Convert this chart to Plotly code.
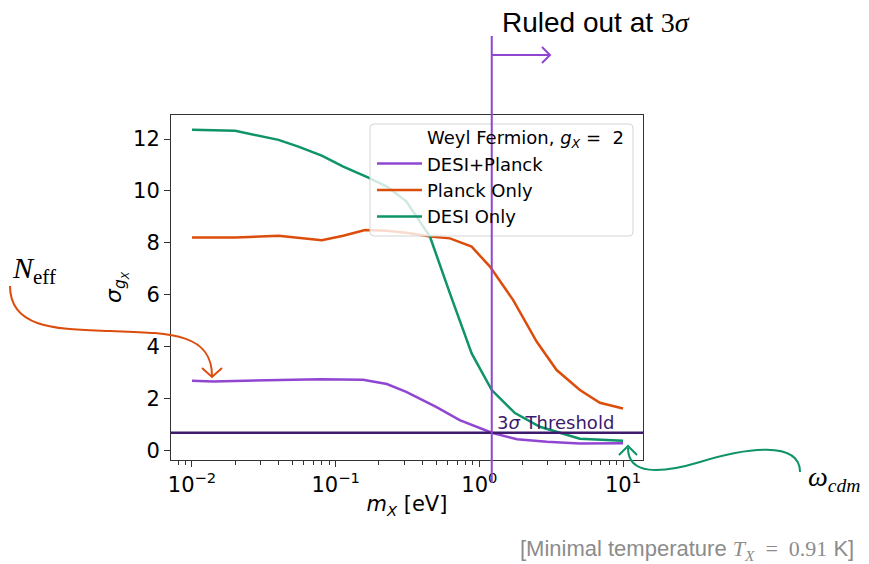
import numpy as np
import plotly.graph_objects as go

# Sensitivity sigma_{g_X} versus mass m_X for each data combination
mass_desi_planck = [0.01, 0.014, 0.078, 0.155, 0.227, 0.31, 0.50, 0.73, 1.22, 1.83, 2.95, 5.0, 10.0]
sigma_desi_planck = [2.68, 2.65, 2.74, 2.72, 2.55, 2.25, 1.67, 1.16, 0.67, 0.42, 0.32, 0.26, 0.27]

mass_planck = [0.01, 0.020, 0.040, 0.080, 0.113, 0.160, 0.227, 0.32, 0.453, 0.624, 0.884,
               1.185, 1.72, 2.51, 3.45, 5.01, 6.9, 10.0]
sigma_planck = [8.20, 8.20, 8.27, 8.10, 8.27, 8.49, 8.46, 8.38, 8.24, 8.17, 7.85,
                7.08, 5.79, 4.18, 3.09, 2.32, 1.83, 1.61]

mass_desi = [0.01, 0.020, 0.040, 0.055, 0.080, 0.113, 0.169, 0.227, 0.31, 0.453, 0.624,
             0.884, 1.22, 1.77, 2.64, 5.0, 10.0]
sigma_desi = [12.36, 12.32, 11.97, 11.71, 11.36, 10.94, 10.51, 10.17, 9.60, 8.24, 6.05,
              3.73, 2.32, 1.43, 0.90, 0.44, 0.36]

x_tick_vals = [0.01, 0.1, 1, 10]
x_tick_text = ["10<sup>−2</sup>", "10<sup>−1</sup>", "10<sup>0</sup>", "10<sup>1</sup>"]

THRESHOLD = 0.67        # 3 sigma detection threshold
RULE_OUT_MASS = 1.22    # mass where DESI+Planck crosses the threshold

C_DP = "#9146d2"
C_PL = "#dc4d0c"
C_DE = "#0f9368"
C_TH = "#3d1a6c"
C_AX = "#333333"

W, H = 869, 564
L, R, T, B = 171, 643, 115, 460   # plot area in pixels


def px_x(x):
    return (x - L) / (R - L)


def px_y(y):
    return (B - y) / (B - T)


def pix_path(cmds):
    out = []
    for c, pts in cmds:
        out.append(c + " " + " ".join(f"{px_x(x):.5f},{px_y(y):.5f}" for x, y in pts))
    return " ".join(out)


fig = go.Figure()

fig.add_trace(go.Scatter(x=[None], y=[None], mode="lines",
                         line=dict(color="rgba(0,0,0,0)", width=2.5),
                         name="Weyl Fermion, <i>g<sub>X</sub></i> =  2"))
fig.add_trace(go.Scatter(x=mass_desi_planck, y=sigma_desi_planck, mode="lines",
                         line=dict(color=C_DP, width=2.5), name="DESI+Planck"))
fig.add_trace(go.Scatter(x=mass_planck, y=sigma_planck, mode="lines",
                         line=dict(color=C_PL, width=2.5), name="Planck Only"))
fig.add_trace(go.Scatter(x=mass_desi, y=sigma_desi, mode="lines",
                         line=dict(color=C_DE, width=2.5), name="DESI Only"))

shapes = []
# threshold line
shapes.append(dict(type="line", xref="paper", yref="y", x0=0, x1=1, y0=THRESHOLD, y1=THRESHOLD,
                   line=dict(color=C_TH, width=2.5), layer="above"))
# legend frame (semi-transparent so curves fade behind it)
lx0, lx1, ly0, ly1, rr = 370, 633, 124, 236, 4
frame = pix_path([
    ("M", [(lx0 + rr, ly0)]), ("L", [(lx1 - rr, ly0)]), ("Q", [(lx1, ly0), (lx1, ly0 + rr)]),
    ("L", [(lx1, ly1 - rr)]), ("Q", [(lx1, ly1), (lx1 - rr, ly1)]),
    ("L", [(lx0 + rr, ly1)]), ("Q", [(lx0, ly1), (lx0, ly1 - rr)]),
    ("L", [(lx0, ly0 + rr)]), ("Q", [(lx0, ly0), (lx0 + rr, ly0)]),
]) + " Z"
shapes.append(dict(type="path", xref="paper", yref="paper", path=frame,
                   fillcolor="rgba(255,255,255,0.8)", line=dict(color="#d4d4d4", width=1),
                   layer="above"))
# ruled-out boundary
shapes.append(dict(type="line", xref="x", yref="paper", x0=RULE_OUT_MASS, x1=RULE_OUT_MASS,
                   y0=px_y(483), y1=px_y(36), line=dict(color=C_DP, width=2), layer="above"))
shapes.append(dict(type="line", xref="x", yref="paper", x0=RULE_OUT_MASS, x1=10 ** (0.487),
                   y0=px_y(55), y1=px_y(55), line=dict(color=C_DP, width=2), layer="above"))
shapes.append(dict(type="path", xref="paper", yref="paper",
                   path=pix_path([("M", [(542, 47)]), ("L", [(550, 55)]), ("L", [(542, 63)])]),
                   line=dict(color=C_DP, width=2), layer="above"))
# N_eff pointer
shapes.append(dict(type="path", xref="paper", yref="paper",
                   path=pix_path([("M", [(10, 286)]), ("C", [(10, 330), (60, 329), (110, 331)]),
                                  ("C", [(170, 333), (212, 333), (212, 376)])]),
                   line=dict(color=C_PL, width=2), layer="above"))
shapes.append(dict(type="path", xref="paper", yref="paper",
                   path=pix_path([("M", [(202, 368)]), ("L", [(212, 377)]), ("L", [(222, 368)])]),
                   line=dict(color=C_PL, width=2), layer="above"))
# omega_cdm pointer
shapes.append(dict(type="path", xref="paper", yref="paper",
                   path=pix_path([("M", [(800, 472)]), ("C", [(800, 440), (745, 448), (700, 462)]),
                                  ("C", [(660, 474), (628, 475), (628, 448)])]),
                   line=dict(color=C_DE, width=2), layer="above"))
shapes.append(dict(type="path", xref="paper", yref="paper",
                   path=pix_path([("M", [(619, 455)]), ("L", [(628, 446)]), ("L", [(637, 455)])]),
                   line=dict(color=C_DE, width=2), layer="above"))

SERIF = "Liberation Serif"
annotations = [
    dict(xref="paper", yref="paper", x=px_x(500), y=px_y(22), xanchor="left", yanchor="middle",
         text='Ruled out at <span style="font-family:Liberation Serif">3<i>σ</i></span>',
         showarrow=False, font=dict(family="Liberation Sans", size=28, color="black")),
    dict(xref="paper", yref="paper", x=px_x(10), y=px_y(270), xanchor="left", yanchor="middle",
         text="<i>N</i><sub>eff</sub>", showarrow=False,
         font=dict(family=SERIF, size=30, color="black")),
    dict(xref="paper", yref="paper", x=px_x(806), y=px_y(478), xanchor="left", yanchor="middle",
         text="<i>ω</i><sub><i>cdm</i></sub>", showarrow=False,
         font=dict(family=SERIF, size=28, color="black")),
    dict(xref="paper", yref="paper", x=px_x(856), y=px_y(550), xanchor="right", yanchor="middle",
         text='[Minimal temperature <span style="font-family:Liberation Serif"><i>T</i><sub><i>X</i></sub>'
              '\u2002=\u20020.91</span> K]',
         showarrow=False, font=dict(family="Liberation Sans", size=22, color="#8c8c8c")),
    dict(xref="x", yref="y", x=np.log10(RULE_OUT_MASS), y=THRESHOLD, xanchor="left", yanchor="bottom",
         xshift=3, yshift=-2, text="3<i>σ</i> Threshold", showarrow=False,
         font=dict(family="DejaVu Sans", size=18, color=C_TH)),
]

axis_common = dict(showline=True, linecolor=C_AX, linewidth=1, mirror=True, ticks="outside",
                   ticklen=6, tickwidth=1, tickcolor=C_AX, showgrid=False, zeroline=False,
                   tickfont=dict(family="DejaVu Sans", size=21, color="black"))

fig.update_layout(
    width=W, height=H,
    margin=dict(l=L, r=W - R, t=T, b=H - B),
    paper_bgcolor="white", plot_bgcolor="white",
    font=dict(family="DejaVu Sans", color="black"),
    xaxis=dict(type="log", range=[-2.146, 1.139], tickmode="array",
               tickvals=x_tick_vals, ticktext=x_tick_text,
               minor=dict(ticks="outside", ticklen=3.5, tickcolor=C_AX, showgrid=False,
                          tickvals=[m * 10.0 ** e for e in (-3, -2, -1, 0, 1) for m in range(2, 10)]),
               title=dict(text="<i>m</i><sub><i>X</i></sub> [eV]", font=dict(size=21), standoff=0),
               **axis_common),
    yaxis=dict(range=[-0.38, 12.93], dtick=2, tick0=0,
               title=dict(text="<i>σ</i><sub><i>g</i><sub><i>X</i></sub></sub>", font=dict(size=22),
                          standoff=5),
               **axis_common),
    showlegend=True,
    legend=dict(x=px_x(372), y=px_y(119), xanchor="left", yanchor="top",
                bgcolor="rgba(0,0,0,0)", borderwidth=0, itemwidth=45,
                font=dict(family="DejaVu Sans", size=18, color="black")),
    shapes=shapes,
    annotations=annotations,
)

fig.write_html("out.html")
